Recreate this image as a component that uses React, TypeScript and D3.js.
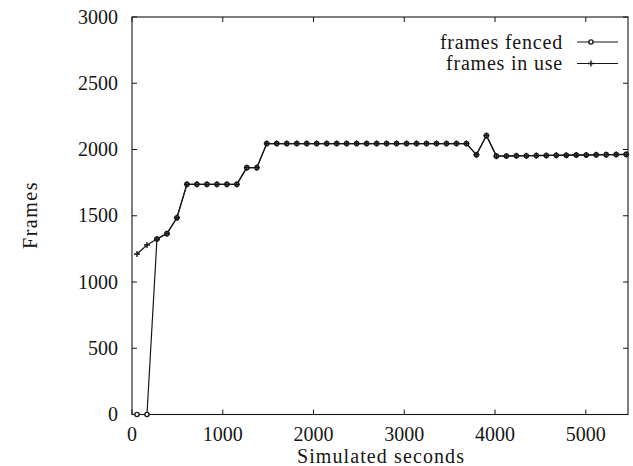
import React from 'react';
import * as d3 from 'd3';

// sample times (simulated seconds)
const seconds = [
  55, 165, 275, 385, 495, 605, 715, 825, 935, 1045,
  1155, 1265, 1375, 1485, 1595, 1705, 1815, 1925, 2035, 2145,
  2255, 2365, 2475, 2585, 2695, 2805, 2915, 3025, 3135, 3245,
  3355, 3465, 3575, 3685, 3795, 3905, 4015, 4125, 4235, 4345,
  4455, 4565, 4675, 4785, 4895, 5005, 5115, 5225, 5335, 5445,
];

const framesInUse = [
  1211, 1279, 1325, 1365, 1485, 1737, 1737, 1737, 1737, 1737,
  1737, 1863, 1863, 2045, 2045, 2045, 2045, 2045, 2045, 2045,
  2045, 2045, 2045, 2045, 2045, 2045, 2045, 2045, 2045, 2045,
  2045, 2045, 2045, 2045, 1960, 2105, 1950, 1951, 1952, 1953,
  1954, 1955, 1956, 1957, 1958, 1959, 1960, 1961, 1962, 1963,
];

const framesFenced = [
  0, 0, 1325, 1365, 1485, 1737, 1737, 1737, 1737, 1737,
  1737, 1863, 1863, 2045, 2045, 2045, 2045, 2045, 2045, 2045,
  2045, 2045, 2045, 2045, 2045, 2045, 2045, 2045, 2045, 2045,
  2045, 2045, 2045, 2045, 1960, 2105, 1950, 1951, 1952, 1953,
  1954, 1955, 1956, 1957, 1958, 1959, 1960, 1961, 1962, 1963,
];

const xTicks = [0, 1000, 2000, 3000, 4000, 5000];
const yTicks = [0, 500, 1000, 1500, 2000, 2500, 3000];
const legendLabels = ['frames fenced', 'frames in use'];

const W = 633, H = 466;
const left = 132, right = 628, top = 17, bottom = 414.5;
const ink = '#161616';
const font = '"Liberation Serif", "DejaVu Serif", serif';

export default function App() {
  const x = d3.scaleLinear().domain([0, 5465]).range([left, right]);
  const y = d3.scaleLinear().domain([0, 3000]).range([bottom, top]);

  const line = d3.line<[number, number]>()
    .x(d => x(d[0]))
    .y(d => y(d[1]));

  const inUse: [number, number][] = seconds.map((s, i) => [s, framesInUse[i]]);
  const fenced: [number, number][] = seconds.map((s, i) => [s, framesFenced[i]]);

  const tick = 5;

  const plus = (cx: number, cy: number, k: string) => (
    <path key={k} d={`M${cx - 3},${cy}H${cx + 3}M${cx},${cy - 3}V${cy + 3}`}
      stroke={ink} strokeWidth={1.4} />
  );
  const circle = (cx: number, cy: number, k: string) => (
    <circle key={k} cx={cx} cy={cy} r={2.1} fill="#fff" stroke={ink} strokeWidth={1.4} />
  );

  return (
    <div style={{ position: 'absolute', left: 0, top: 0 }}>
      <svg width={W} height={H} style={{ display: 'block', background: '#fff' }}
        fontFamily={font} fill={ink}>
        {/* frame */}
        <rect x={left} y={top} width={right - left} height={bottom - top}
          fill="none" stroke={ink} strokeWidth={1.1} />

        {/* x ticks */}
        {xTicks.map(t => (
          <g key={'x' + t}>
            <line x1={x(t)} x2={x(t)} y1={bottom} y2={bottom - tick} stroke={ink} />
            <line x1={x(t)} x2={x(t)} y1={top} y2={top + tick} stroke={ink} />
            <text x={x(t)} y={441} textAnchor="middle" fontSize={20}>{t}</text>
          </g>
        ))}

        {/* y ticks */}
        {yTicks.map(t => (
          <g key={'y' + t}>
            <line x1={left} x2={left + tick} y1={y(t)} y2={y(t)} stroke={ink} />
            <line x1={right} x2={right - tick} y1={y(t)} y2={y(t)} stroke={ink} />
            <text x={118} y={y(t)} dy="0.33em" textAnchor="end" fontSize={20}>{t}</text>
          </g>
        ))}

        <text x={381} y={463} textAnchor="middle" fontSize={20} letterSpacing={1.1}>Simulated seconds</text>
        <text transform="translate(37,215) rotate(-90)" textAnchor="middle" fontSize={20} letterSpacing={1.5}>Frames</text>

        {/* series */}
        <path d={line(inUse) ?? ''} fill="none" stroke={ink} strokeWidth={1.2} />
        <path d={line(fenced) ?? ''} fill="none" stroke={ink} strokeWidth={1.2} />
        {fenced.map((d, i) => circle(x(d[0]), y(d[1]), 'c' + i))}
        {inUse.map((d, i) => plus(x(d[0]), y(d[1]), 'p' + i))}

        {/* legend */}
        {legendLabels.map((label, i) => {
          const ly = 42 + i * 21.5;
          return (
            <g key={label}>
              <text x={563} y={ly} dy="0.33em" textAnchor="end" fontSize={20} letterSpacing={0.8}>{label}</text>
              <line x1={577} x2={618} y1={ly} y2={ly} stroke={ink} strokeWidth={1.2} />
              {i === 0 ? circle(591, ly, 'lc') : plus(591, ly, 'lp')}
            </g>
          );
        })}
      </svg>
    </div>
  );
}
